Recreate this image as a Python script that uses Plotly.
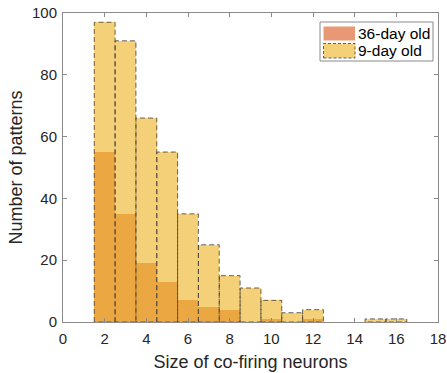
import plotly.graph_objects as go

sizes = [2, 3, 4, 5, 6, 7, 8, 9, 10, 11, 12, 13, 14, 15, 16]
old36 = [55, 35, 19, 13, 7, 5, 4, 0, 1, 0, 1, 0, 0, 0, 0]
old9 = [97, 91, 66, 55, 35, 25, 15, 11, 7, 3, 4, 0, 0, 1, 1]
bin_width = 1
x_ticks = [0, 2, 4, 6, 8, 10, 12, 14, 16, 18]
y_ticks = [0, 20, 40, 60, 80, 100]
labels = ["36-day old", "9-day old"]

c36 = "rgba(217,83,25,0.6)"
c9 = "rgba(237,177,32,0.6)"
edge = "rgba(80,70,60,0.85)"
font = "Liberation Sans, Arial, sans-serif"

fig = go.Figure()
fig.add_trace(go.Bar(x=sizes, y=old36, width=bin_width, marker=dict(color=c36, line=dict(width=0)),
                     showlegend=False, hoverinfo="x+y", name=labels[0]))
fig.add_trace(go.Bar(x=sizes, y=old9, width=bin_width, marker=dict(color=c9, line=dict(width=0)),
                     showlegend=False, hoverinfo="x+y", name=labels[1]))

ox, oy = [], []
for s, v in zip(sizes, old9):
    if v <= 0:
        continue
    l, r = s - bin_width / 2, s + bin_width / 2
    ox += [l, l, r, r, l, None]
    oy += [0, v, v, 0, 0, None]
fig.add_trace(go.Scatter(x=ox, y=oy, mode="lines", line=dict(color=edge, width=1, dash="5px,3px"),
                         showlegend=False, hoverinfo="skip"))

axis_common = dict(showgrid=False, zeroline=False, showline=True, linecolor="#8a8a8a", linewidth=1,
                   mirror="allticks", ticks="inside", ticklen=4, tickcolor="#8a8a8a", automargin=False,
                   tickfont=dict(family=font, size=15, color="#262626"))
fig.update_xaxes(range=[0, 18], tickvals=x_ticks, **axis_common, ticklabelstandoff=3,
                 title=dict(text="Size of co-firing neurons", font=dict(family=font, size=18, color="#262626"), standoff=9))
fig.update_yaxes(range=[0, 100], tickvals=y_ticks, **axis_common, ticklabelstandoff=2,
                 title=dict(text="Number of patterns", font=dict(family=font, size=18, color="#262626"), standoff=4))

# custom legend (paper coords)
W, H = 447, 373
ml, mr, mt, mb = 63, 9, 13, 51
pw, ph = W - ml - mr, H - mt - mb
def px(x): return (x - ml) / pw
def py(y): return 1 - (y - mt) / ph

shapes = [
    dict(type="rect", xref="paper", yref="paper", x0=px(320), x1=px(433), y0=py(61), y1=py(22),
         line=dict(color="#8a8a8a", width=1), fillcolor="white", layer="above"),
    dict(type="rect", xref="paper", yref="paper", x0=px(323.5), x1=px(355), y0=py(40.5), y1=py(26.5),
         line=dict(width=0), fillcolor=c36, layer="above"),
    dict(type="rect", xref="paper", yref="paper", x0=px(323.5), x1=px(355), y0=py(58), y1=py(43.5),
         line=dict(color=edge, width=1, dash="3px,2px"), fillcolor=c9, layer="above"),
]
annotations = [
    dict(xref="paper", yref="paper", x=px(356), y=py(33.5), text=labels[0], showarrow=False,
         xanchor="left", yanchor="middle", font=dict(family=font, size=15.5, color="#000000")),
    dict(xref="paper", yref="paper", x=px(356), y=py(51), text=labels[1], showarrow=False,
         xanchor="left", yanchor="middle", font=dict(family=font, size=15.5, color="#000000")),
]

fig.update_layout(width=W, height=H, margin=dict(l=ml, r=mr, t=mt, b=mb),
                  barmode="overlay", bargap=0, plot_bgcolor="white", paper_bgcolor="white",
                  shapes=shapes, annotations=annotations, showlegend=False)

fig.write_html("out.html")
